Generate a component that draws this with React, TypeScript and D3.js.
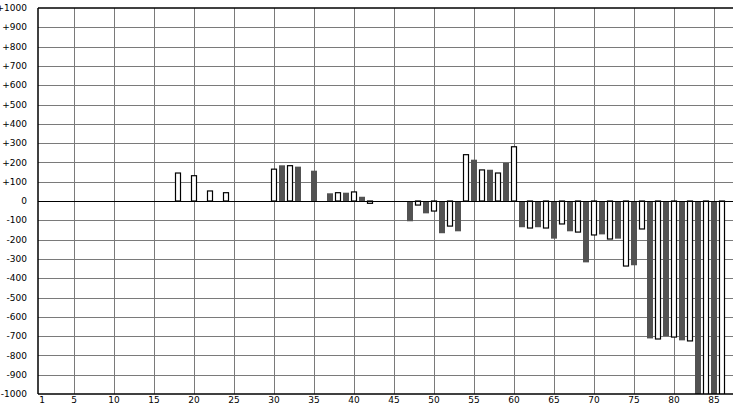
import React from "react";
import * as d3 from "d3";

const yTicks = [1000, 900, 800, 700, 600, 500, 400, 300, 200, 100, 0, -100, -200, -300, -400, -500, -600, -700, -800, -900, -1000];
const xTicks = [1, 5, 10, 15, 20, 25, 30, 35, 40, 45, 50, 55, 60, 65, 70, 75, 80, 85];

const whiteX = [18, 20, 22, 24, 30, 32, 38, 40, 42, 48, 50, 52, 54, 56, 58, 60, 62, 64, 66, 68, 70, 72, 74, 76, 78, 80, 82, 84, 86];
const whiteV = [145, 131, 52, 43, 165, 183, 43, 47, -12, -21, -52, -130, 240, 161, 145, 281, -140, -140, -119, -161, -176, -197, -337, -145, -715, -705, -725, -1100, -1100];
const darkX = [31, 33, 35, 37, 39, 41, 47, 49, 51, 53, 55, 57, 59, 61, 63, 65, 67, 69, 71, 73, 75, 77, 79, 81, 83, 85];
const darkV = [185, 178, 157, 40, 43, 22, -105, -64, -167, -157, 214, 162, 198, -136, -136, -195, -157, -318, -173, -195, -333, -712, -700, -722, -1100, -1100];

export default function App() {
  const W = 733, H = 404;
  const x = d3.scaleLinear().domain([1, 85]).range([42, 714]);
  const y = d3.scaleLinear().domain([-1000, 1000]).range([394, 8]);
  const left = x(0.5);
  const right = x(88.5);
  const top = y(1000);
  const bottom = y(-1000);
  const fmt = (v: number) => (v > 0 ? "+" + v : String(v));
  const font = "DejaVu Sans, Verdana, sans-serif";
  return (
    <svg width={W} height={H} style={{ position: "absolute", left: 0, top: 0, background: "#fff" }}>
      <defs>
        <clipPath id="plot">
          <rect x={left} y={top} width={right - left} height={bottom - top} />
        </clipPath>
      </defs>
      <rect x={0} y={0} width={W} height={H} fill="#fff" />
      {yTicks.filter(v => v !== 1000 && v !== -1000 && v !== 0).map(v => (
        <line key={"gy" + v} x1={left} x2={right} y1={Math.round(y(v)) + 0.5} y2={Math.round(y(v)) + 0.5} stroke="#7a7a7a" strokeWidth={1} />
      ))}
      {xTicks.filter(v => v !== 1).map(v => (
        <line key={"gx" + v} x1={Math.round(x(v)) + 0.5} x2={Math.round(x(v)) + 0.5} y1={top} y2={bottom} stroke="#7a7a7a" strokeWidth={1} />
      ))}
      <g clipPath="url(#plot)">
        {whiteX.map((xv, i) => {
          const v = whiteV[i];
          const cx = Math.round(x(xv));
          const y0 = y(0), y1 = y(v);
          return (
            <rect key={"w" + xv} x={cx - 2.5} y={Math.min(y0, y1)} width={5} height={Math.abs(y1 - y0)} fill="#fff" stroke="#000" strokeWidth={1.2} />
          );
        })}
        {darkX.map((xv, i) => {
          const v = darkV[i];
          const cx = Math.round(x(xv));
          const y0 = y(0), y1 = y(v);
          return (
            <rect key={"d" + xv} x={cx - 3} y={Math.min(y0, y1)} width={6} height={Math.abs(y1 - y0)} fill="#525252" />
          );
        })}
      </g>
      <line x1={left} x2={right} y1={Math.round(y(0)) + 0.5} y2={Math.round(y(0)) + 0.5} stroke="#000" strokeWidth={1.2} />
      <line x1={left} x2={right} y1={top} y2={top} stroke="#000" strokeWidth={1.5} />
      <line x1={left} x2={right} y1={bottom} y2={bottom} stroke="#000" strokeWidth={1.5} />
      <line x1={left} x2={left} y1={top} y2={bottom} stroke="#000" strokeWidth={1.5} />
      {yTicks.map(v => (
        <text key={"ly" + v} x={27} y={y(v)} dy="0.35em" textAnchor="end" fontFamily={font} fontSize={9} fill="#000">{fmt(v)}</text>
      ))}
      {xTicks.map(v => (
        <text key={"lx" + v} x={x(v)} y={400} dy="0.35em" textAnchor="middle" fontFamily={font} fontSize={9} fill="#000">{v}</text>
      ))}
    </svg>
  );
}
